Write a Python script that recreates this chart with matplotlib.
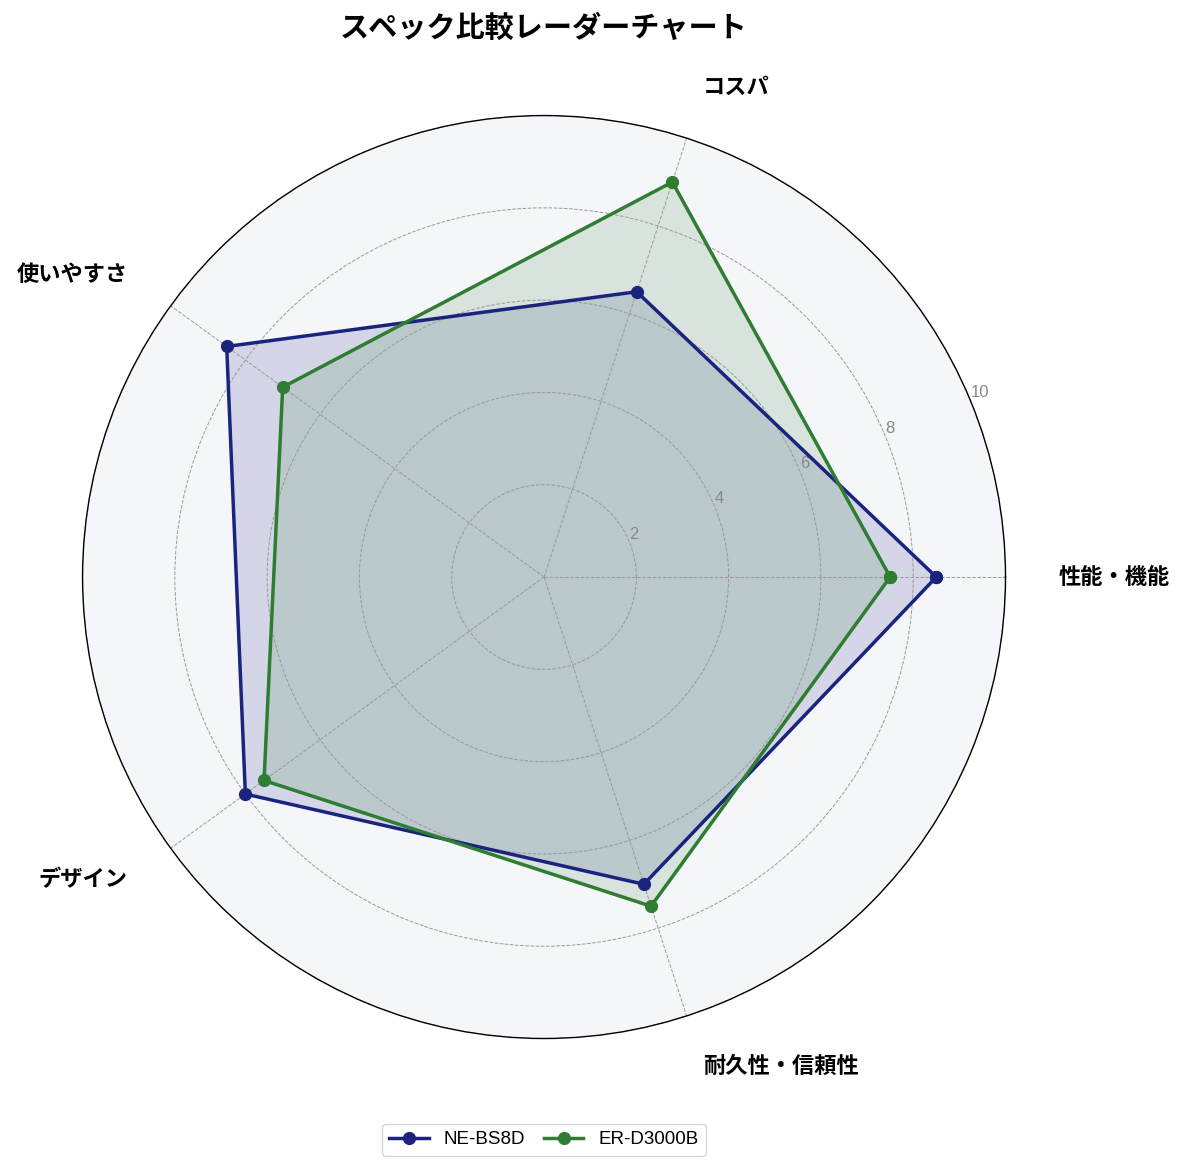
import numpy as np
import matplotlib
matplotlib.use('Agg')
import matplotlib.pyplot as plt

plt.rcParams['font.family'] = ['Noto Sans CJK JP', 'DejaVu Sans']

categories = ['性能・機能', 'コスパ', '使いやすさ', 'デザイン', '耐久性・信頼性']
series_names = ['NE-BS8D', 'ER-D3000B']
values_ne = [8.5, 6.5, 8.5, 8.0, 7.0]
values_er = [7.5, 9.0, 7.0, 7.5, 7.5]
radial_ticks = [2, 4, 6, 8, 10]
colors = ['#1a237e', '#2e7d32']

n = len(categories)
angles = np.linspace(0, 2 * np.pi, n, endpoint=False).tolist()
angles_closed = angles + angles[:1]

fig = plt.figure(figsize=(11.85, 11.72), dpi=100)
ax = fig.add_axes([0.0696, 0.1139, 0.779, 0.7875], projection='polar')
ax.set_facecolor('#f5f6fa')

for name, vals, col in zip(series_names, [values_ne, values_er], colors):
    v = vals + vals[:1]
    ax.plot(angles_closed, v, color=col, linewidth=2.5, marker='o', markersize=8.5, label=name)
    ax.fill(angles_closed, v, color=col, alpha=0.15)

ax.set_ylim(0, 10)
ax.set_yticks(radial_ticks)
ax.set_yticklabels([str(t) for t in radial_ticks], color='#888888', fontsize=12,
                   family=['Liberation Sans', 'DejaVu Sans'])
ax.set_rlabel_position(22.5)
ax.set_xticks(angles)
ax.set_xticklabels([])
ax.grid(color='#999999', linestyle='--', linewidth=0.7)
ax.spines['polar'].set_color('black')
ax.spines['polar'].set_linewidth(1.0)

# category labels just outside the outer ring
for ang, lab in zip(angles, categories):
    c = np.cos(ang)
    ha = 'left' if c > -0.1 else 'right'
    ax.text(ang, 11.15, lab, ha=ha, va='center', fontsize=16, fontweight='bold')

# title centred over the polar axes
fig.text(0.459, 1 - 28 / 1172, 'スペック比較レーダーチャート', ha='center', va='center',
         fontsize=21, fontweight='bold')
ax.legend(loc='upper center', bbox_to_anchor=(0.5, -0.082), ncol=2,
          prop={'family': ['Liberation Sans', 'DejaVu Sans'], 'size': 13.5},
          handlelength=2.1, columnspacing=1.0)

fig.savefig('out.png', dpi=100)
